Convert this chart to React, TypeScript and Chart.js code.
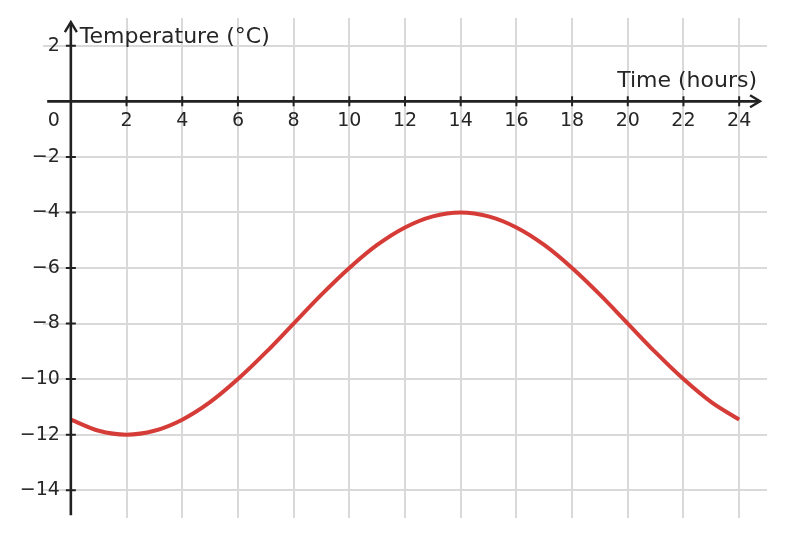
import { useEffect, useRef } from 'react';
import Chart, { ChartConfiguration, Plugin } from 'chart.js/auto';

// readings taken off the curve, one per hour
const hours = [
  0, 1, 2, 3, 4, 5, 6, 7, 8, 9, 10, 11, 12, 13, 14, 15, 16, 17, 18, 19, 20, 21,
  22, 23, 24,
];
const temperatures = [
  -11.46, -11.86, -12, -11.86, -11.46, -10.83, -10, -9.04, -8, -6.96, -6,
  -5.17, -4.54, -4.14, -4, -4.14, -4.54, -5.17, -6, -6.96, -8, -9.04, -10,
  -10.83, -11.46,
];
const xTickValues = [0, 2, 4, 6, 8, 10, 12, 14, 16, 18, 20, 22, 24];
const yTickValues = [2, 0, -2, -4, -6, -8, -10, -12, -14];

const xAxisTitle = 'Time (hours)';
const yAxisTitle = 'Temperature (°C)';

const FONT = '"DejaVu Sans", sans-serif';
const INK = '#222222';
const TEXT = '#262626';
const GRID = '#d9d9d9';
const LINE = '#d63c37';

const fmt = (v: number) => (v < 0 ? '\u2212' + Math.abs(v) : String(v));

// draws the cross-shaped axes through the origin, with arrows and labels
const originAxes: Plugin<'line'> = {
  id: 'originAxes',
  afterDatasetsDraw(chart) {
    const { ctx, scales } = chart;
    const xs = scales.x;
    const ys = scales.y;
    const x0 = xs.getPixelForValue(0);
    const y0 = ys.getPixelForValue(0);
    const left = xs.getPixelForValue(-0.85);
    const right = xs.getPixelForValue(24.75);
    const top = ys.getPixelForValue(2.85);
    const bottom = ys.getPixelForValue(-14.9);

    ctx.save();
    ctx.strokeStyle = INK;
    ctx.fillStyle = INK;
    ctx.lineWidth = 2.6;
    ctx.lineCap = 'butt';

    ctx.beginPath();
    ctx.moveTo(left, y0);
    ctx.lineTo(right - 2, y0);
    ctx.moveTo(x0, bottom);
    ctx.lineTo(x0, top + 2);
    ctx.stroke();

    // arrow heads
    ctx.lineWidth = 2.4;
    ctx.lineJoin = 'miter';
    ctx.beginPath();
    ctx.moveTo(right - 10, y0 - 6);
    ctx.lineTo(right, y0);
    ctx.lineTo(right - 10, y0 + 6);
    ctx.moveTo(x0 - 6, top + 10);
    ctx.lineTo(x0, top);
    ctx.lineTo(x0 + 6, top + 10);
    ctx.stroke();

    // tick marks
    ctx.lineWidth = 2;
    ctx.beginPath();
    xTickValues.forEach((v) => {
      if (v === 0) return;
      const px = xs.getPixelForValue(v);
      ctx.moveTo(px, y0 - 5);
      ctx.lineTo(px, y0 + 5);
    });
    yTickValues.forEach((v) => {
      if (v === 0) return;
      const py = ys.getPixelForValue(v);
      ctx.moveTo(x0 - 5, py);
      ctx.lineTo(x0 + 5, py);
    });
    ctx.stroke();

    // tick labels
    ctx.fillStyle = TEXT;
    ctx.font = `19px ${FONT}`;
    ctx.textBaseline = 'middle';
    ctx.textAlign = 'center';
    xTickValues.forEach((v) => {
      const px = v === 0 ? x0 - 17 : xs.getPixelForValue(v);
      ctx.fillText(fmt(v), px, y0 + 20);
    });
    ctx.textAlign = 'right';
    yTickValues.forEach((v) => {
      if (v === 0) return;
      ctx.fillText(fmt(v), x0 - 11, ys.getPixelForValue(v));
    });

    // axis titles
    ctx.font = `22px ${FONT}`;
    ctx.textBaseline = 'alphabetic';
    ctx.textAlign = 'left';
    ctx.fillText(yAxisTitle, x0 + 9, 43);
    ctx.textAlign = 'right';
    ctx.fillText(xAxisTitle, 757, 87);
    ctx.restore();
  },
};

export default function App() {
  const canvasRef = useRef<HTMLCanvasElement>(null);

  useEffect(() => {
    if (!canvasRef.current) return;
    const gridScale = (min: number, max: number, ticks: number[]) => ({
      type: 'linear' as const,
      min,
      max,
      border: { display: false },
      ticks: { display: false },
      grid: { color: GRID, lineWidth: 2, drawTicks: false, tickLength: 0 },
      afterBuildTicks: (scale: any) => {
        scale.ticks = ticks.filter((v) => v !== 0).map((value) => ({ value }));
      },
    });

    const config: ChartConfiguration<'line'> = {
      type: 'line',
      data: {
        datasets: [
          {
            data: hours.map((h, i) => ({ x: h, y: temperatures[i] })),
            borderColor: LINE,
            borderWidth: 4,
            pointRadius: 0,
            tension: 0.4,
            cubicInterpolationMode: 'monotone',
            fill: false,
          },
        ],
      },
      options: {
        responsive: false,
        animation: false,
        devicePixelRatio: 1,
        layout: { padding: { left: 43, right: 18, top: 18, bottom: 19 } },
        plugins: { legend: { display: false }, tooltip: { enabled: false } },
        scales: {
          x: gridScale(-1, 25, xTickValues),
          y: gridScale(-15, 3, yTickValues),
        },
      },
      plugins: [originAxes],
    };

    const chart = new Chart(canvasRef.current, config);
    return () => {
      chart.destroy();
    };
  }, []);

  return (
    <div style={{ position: 'fixed', left: 0, top: 0, width: 785, height: 537, background: '#fff' }}>
      <canvas ref={canvasRef} width={785} height={537} />
    </div>
  );
}
